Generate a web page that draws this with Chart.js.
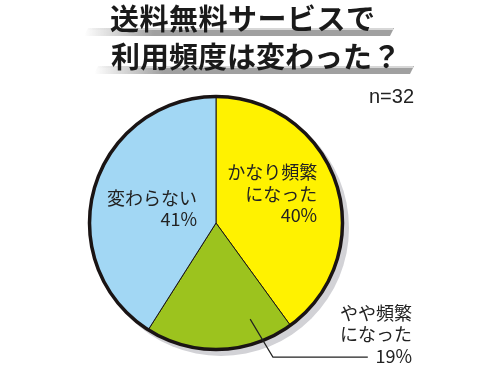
<!DOCTYPE html>
<html>
<head>
<meta charset="utf-8">
<script src="https://cdn.jsdelivr.net/npm/chart.js@4/dist/chart.umd.min.js"></script>
<style>
  html, body { margin: 0; padding: 0; background: #fff; }
  #wrap { position: relative; width: 500px; height: 375px; }
</style>
</head>
<body>
<div id="wrap"><canvas id="chart-pie" width="500" height="375"></canvas></div>
<script>
const TITLE_LINES = ["送料無料サービスで", "利用頻度は変わった？"];
const SAMPLE_NOTE = "n=32";
const CATEGORIES = ["かなり頻繁\nになった", "やや頻繁\nになった", "変わらない"];
const SHARES = [40, 19, 41];
const SLICE_COLORS = ["#fff200", "#9cc31e", "#a2d7f4"];

const JP_FONT = '"Noto Sans CJK JP", "Noto Sans", sans-serif';

// gray bars + heading text, drawn on the same canvas
const titlePlugin = {
    id: "titleBars",
    beforeDraw: function(chart) {
        var ctx = chart.ctx;
        var bars = [
            { x0: 84, x1: 394, y: 28, h: 8 },
            { x0: 94, x1: 414, y: 66, h: 8 }
        ];
        bars.forEach(function(b) {
            var g = ctx.createLinearGradient(b.x0, 0, b.x0 + 70, 0);
            g.addColorStop(0, "rgba(160,160,160,0)");
            g.addColorStop(1, "rgba(160,160,160,1)");
            ctx.save();
            ctx.fillStyle = g;
            ctx.beginPath();
            ctx.moveTo(b.x0 + 4, b.y);
            ctx.lineTo(b.x1, b.y);
            ctx.lineTo(b.x1 - 4, b.y + b.h);
            ctx.lineTo(b.x0, b.y + b.h);
            ctx.closePath();
            ctx.fill();
            var hl = ctx.createLinearGradient(b.x0, 0, b.x0 + 70, 0);
            hl.addColorStop(0, "rgba(215,215,215,0)");
            hl.addColorStop(1, "rgba(215,215,215,1)");
            ctx.fillStyle = hl;
            ctx.fillRect(b.x0 + 4, b.y, b.x1 - b.x0 - 5, 2);
            ctx.restore();
        });
        ctx.save();
        ctx.fillStyle = "#1a1a1a";
        ctx.font = "bold 29px " + JP_FONT;
        ctx.textAlign = "left";
        ctx.textBaseline = "middle";
        ctx.letterSpacing = "0.5px";
        ctx.fillText(TITLE_LINES[0], 110, 19);
        ctx.letterSpacing = "0px";
        ctx.fillText(TITLE_LINES[1], 111, 57);
        ctx.font = '20px "Liberation Sans", Arial, sans-serif';
        ctx.fillStyle = "#222";
        ctx.textAlign = "right";
        ctx.fillText(SAMPLE_NOTE, 414, 97);
        ctx.restore();
    }
};

// gray drop shadow behind the pie, heavy outer rim on top
const shadowPlugin = {
    id: "pieShadow",
    beforeDatasetsDraw: function(chart) {
        var arc = chart.getDatasetMeta(0).data[0];
        if (!arc) return;
        var ctx = chart.ctx;
        ctx.save();
        ctx.fillStyle = "#d2d2d6";
        ctx.beginPath();
        ctx.arc(arc.x + 5, arc.y + 5, arc.outerRadius + 1.5, 0, Math.PI * 2);
        ctx.fill();
        ctx.restore();
    },
    afterDatasetsDraw: function(chart) {
        var arc = chart.getDatasetMeta(0).data[0];
        if (!arc) return;
        var ctx = chart.ctx;
        ctx.save();
        ctx.strokeStyle = "#1a1414";
        ctx.lineWidth = 3.5;
        ctx.beginPath();
        ctx.arc(arc.x, arc.y, arc.outerRadius, 0, Math.PI * 2);
        ctx.stroke();
        ctx.restore();
    }
};

// slice labels, placed relative to the pie centre
const labelPlugin = {
    id: "sliceLabels",
    afterDatasetsDraw: function(chart) {
        var meta = chart.getDatasetMeta(0);
        var arc = meta.data[0];
        if (!arc) return;
        var cx = arc.x, cy = arc.y, r = arc.outerRadius;
        var ctx = chart.ctx;
        var spots = [
            { x: cx + r * 0.80, y: cy - r * 0.40 },
            { x: cx + r * 1.55, y: cy + r * 0.71 },
            { x: cx - r * 0.15, y: cy - r * 0.20 }
        ];
        ctx.save();
        ctx.font = "18px " + JP_FONT;
        ctx.fillStyle = "#222";
        ctx.textAlign = "right";
        ctx.textBaseline = "middle";
        CATEGORIES.forEach(function(name, i) {
            var lines = name.split("\n").concat([SHARES[i] + "%"]);
            lines.forEach(function(t, k) {
                ctx.fillText(t, spots[i].x, spots[i].y + k * 21.5);
            });
        });
        // leader line for the small slice
        ctx.strokeStyle = "#222";
        ctx.lineWidth = 1.2;
        ctx.beginPath();
        ctx.moveTo(cx + r * 0.27, cy + r * 0.76);
        ctx.lineTo(cx + r * 0.45, cy + r * 1.06);
        ctx.lineTo(cx + r * 1.20, cy + r * 1.06);
        ctx.stroke();
        ctx.restore();
    }
};

new Chart(document.getElementById("chart-pie").getContext("2d"), {
    type: "pie",
    data: {
        labels: CATEGORIES,
        datasets: [{
            data: SHARES,
            backgroundColor: SLICE_COLORS,
            borderColor: "#1a1414",
            borderWidth: 1
        }]
    },
    options: {
        responsive: false,
        animation: false,
        layout: { padding: { top: 96, bottom: 25, left: 89, right: 157 } },
        plugins: {
            legend: { display: false },
            tooltip: { enabled: false }
        }
    },
    plugins: [titlePlugin, shadowPlugin, labelPlugin]
});
</script>
</body>
</html>
